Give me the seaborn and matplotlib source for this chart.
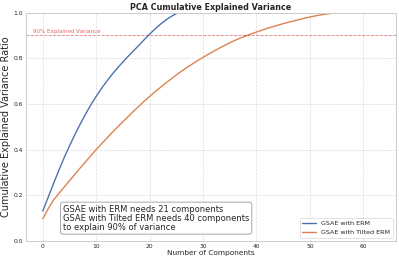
import numpy as np
import pandas as pd
import matplotlib
matplotlib.use("Agg")
import matplotlib.pyplot as plt
import seaborn as sns

components = list(range(64))
erm = [0.130, 0.190, 0.250, 0.308, 0.364, 0.416, 0.465, 0.511, 0.555, 0.596,
       0.633, 0.668, 0.700, 0.730, 0.758, 0.784, 0.809, 0.833, 0.857, 0.882,
       0.906, 0.928, 0.949, 0.967, 0.983, 0.996, 1.0]
erm = erm + [1.0] * (64 - len(erm))
tilted = [0.096, 0.140, 0.178, 0.207, 0.235, 0.263, 0.291, 0.319, 0.346, 0.373,
          0.400, 0.425, 0.450, 0.475, 0.499, 0.522, 0.545, 0.568, 0.590, 0.612,
          0.633, 0.653, 0.672, 0.691, 0.709, 0.727, 0.744, 0.760, 0.775, 0.790,
          0.804, 0.818, 0.831, 0.844, 0.856, 0.868, 0.879, 0.889, 0.898, 0.907,
          0.915, 0.923, 0.931, 0.938, 0.945, 0.952, 0.958, 0.964, 0.970, 0.976,
          0.981, 0.986, 0.990, 0.994, 0.997, 1.0]
tilted = tilted + [1.0] * (64 - len(tilted))
series_names = ["GSAE with ERM", "GSAE with Tilted ERM"]

sns.set_theme(style="whitegrid")
plt.rcParams['font.family'] = ['DejaVu Sans']

fig, ax = plt.subplots(figsize=(3.99, 2.64), dpi=100)
pal = sns.color_palette("deep")
df = pd.DataFrame({"x": components * 2,
                   "y": erm + tilted,
                   "s": [series_names[0]] * 64 + [series_names[1]] * 64})
sns.lineplot(data=df, x="x", y="y", hue="s", palette=[pal[0], pal[1]], ax=ax, linewidth=1.0)

ax.axhline(0.9, color="#d62728", linestyle="--", linewidth=0.6, alpha=0.6)
ax.text(-1.8, 0.905, "90% Explained Variance", color="#d62728", alpha=0.7, fontsize=4.05, va="bottom")

ax.set_ylim(0, 1.0)
ax.set_title("PCA Cumulative Explained Variance", fontsize=5.8, fontweight="bold", pad=2)
ax.set_xlabel("Number of Components", fontsize=5.3, labelpad=1)
ax.set_ylabel("Cumulative Explained Variance Ratio", fontsize=7.0, labelpad=2)
ax.tick_params(axis="both", labelsize=4.3, pad=2, length=0)
ax.grid(True, linestyle="--", linewidth=0.5, alpha=0.7)
for sp in ax.spines.values():
    sp.set_color("#cccccc")
    sp.set_linewidth(0.7)

leg = ax.legend(loc="lower right", fontsize=4.6, frameon=True, handlelength=2.2)
leg.get_frame().set_linewidth(0.5)

ax.text(0.1, 0.04, "GSAE with ERM needs 21 components\nGSAE with Tilted ERM needs 40 components\nto explain 90% of variance",
        transform=ax.transAxes, fontsize=6.0, va="bottom", ha="left", linespacing=1.0,
        bbox=dict(boxstyle="round,pad=0.3", facecolor="white", edgecolor="#999999", linewidth=0.6))

fig.subplots_adjust(left=0.065, right=0.993, top=0.952, bottom=0.088)
fig.savefig("out.png", dpi=100)
